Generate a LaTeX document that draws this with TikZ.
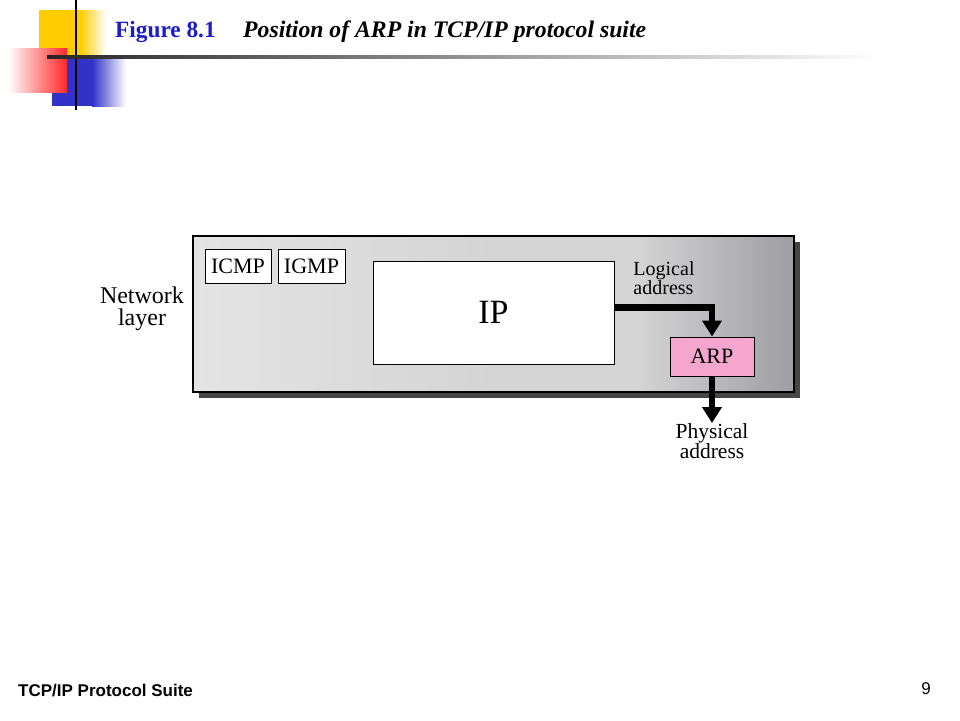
\documentclass[tikz,border=0pt]{standalone}
\usepackage{fontspec}
\setmainfont{Liberation Serif}
\setsansfont{Liberation Sans}
\usetikzlibrary{arrows.meta}

\definecolor{titleblue}{RGB}{28,28,200}
\definecolor{decoyellow}{RGB}{255,204,0}
\definecolor{decored}{RGB}{255,40,40}
\definecolor{decoblue}{RGB}{50,50,200}
\definecolor{arppink}{RGB}{244,166,206}
\definecolor{boxlight}{RGB}{228,228,229}
\definecolor{boxmid}{RGB}{212,212,213}
\definecolor{boxdark}{RGB}{158,158,162}
\definecolor{boxshadow}{RGB}{70,70,70}
\pgfdeclarehorizontalshading{netshade}{100bp}{color(0bp)=(boxlight); color(25bp)=(boxlight); color(50bp)=(boxmid); color(62bp)=(boxmid); color(75bp)=(boxdark); color(100bp)=(boxdark)}

\begin{document}
\begin{tikzpicture}[x=1pt,y=-1pt]
            \tikzstyle{every node}+=[inner sep=0pt]
            \tikzstyle{protobox}=[draw=black, line width=1pt, fill=white, font=\fontsize{22}{22}\selectfont]
            \tikzstyle{thickarrow}=[line width=6.5pt, -{Triangle[width=19pt,length=16pt]}]
            \useasboundingbox (0,0) rectangle (960,720);
            \fill [white] (0,0) rectangle (960,720);
            % corner decoration
            \fill [decoyellow] (39,10) rectangle (80,58);
            \shade [left color=decoyellow, right color=white] (80,10) rectangle (106,58);
            \fill [decoblue] (52,58) rectangle (92,106);
            \shade [left color=decoblue, right color=white] (92,58) rectangle (126,106);
            \shade [left color=white, right color=decored] (8,48) rectangle (67,92);
            \draw [black, line width=2.5pt] (76,0) -- (76,110);
            \shade [left color=black!85, middle color=black!35, right color=white] (47,55.5) rectangle (880,58.5);
            % title
            \node [anchor=base west, text=titleblue, font=\fontsize{23.3}{23}\selectfont\bfseries] (fignum) at (115,37) {Figure 8.1};
            \node [anchor=base west, font=\fontsize{23.7}{23}\selectfont\bfseries\itshape] (figtitle) at (243,37) {Position of ARP in TCP/IP protocol suite};
            % network layer box
            \fill [boxshadow] (199,242) rectangle (800,398);
            \shade [shading=netshade] (193,236) rectangle (794,392);
            \draw [black, line width=1.5pt] (193,236) rectangle (794,392);
            \node [protobox, minimum width=66pt, minimum height=34pt] (icmp) at (238,266) {ICMP};
            \node [protobox, minimum width=67pt, minimum height=34pt] (igmp) at (311.5,266) {IGMP};
            \node [protobox, minimum width=241pt, minimum height=103pt, font=\fontsize{34}{34}\selectfont] (ip) at (493.5,312.5) {IP};
            \node [protobox, fill=arppink, minimum width=84pt, minimum height=39pt] (arp) at (712,356.5) {ARP};
            \node [align=left, font=\fontsize{20}{18}\selectfont] (logical) at (664,278) {Logical\\address};
            \node [align=center, font=\fontsize{24}{22}\selectfont] (netlayer) at (142,308.5) {Network\\layer};
            \node [align=center, font=\fontsize{21.5}{18.5}\selectfont, anchor=north] (phys) at (712,423) {Physical\\address};
            \draw [thickarrow] (ip.east) ++(0,-5) -| (arp.north);
            \draw [thickarrow] (arp.south) -- (phys.north);
            % footer
            \node [anchor=base west, font=\sffamily\bfseries\fontsize{17}{17}\selectfont] (footer) at (18,696) {TCP/IP Protocol Suite};
            \node [anchor=base east, font=\sffamily\fontsize{17}{17}\selectfont] (pagenum) at (931,694) {9};
        \end{tikzpicture}
\end{document}
